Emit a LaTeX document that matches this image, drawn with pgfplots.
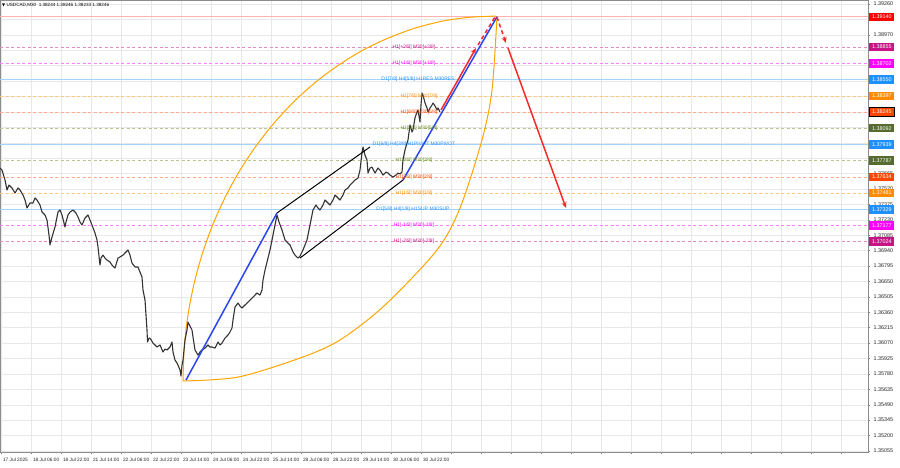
\documentclass[border=0pt]{standalone}
\usepackage{fontspec}
\setmainfont{Liberation Sans}
\newfontfamily\symfont{DejaVu Sans}
\usepackage{pgfplots}
\pgfplotsset{compat=1.18}
\usetikzlibrary{arrows.meta}
\definecolor{mvr}{HTML}{C71585}
\definecolor{mag}{HTML}{FF00FF}
\definecolor{dblue}{HTML}{1E90FF}
\definecolor{dorange}{HTML}{FF8C00}
\definecolor{ored}{HTML}{FF4500}
\definecolor{olv}{HTML}{556B2F}
\definecolor{olvt}{HTML}{6B8E23}
\definecolor{trblue}{HTML}{2A46F0}
\definecolor{trred}{HTML}{F52A2A}
\definecolor{arcor}{HTML}{FFA500}
\begin{document}
\begin{tikzpicture}
\useasboundingbox (0,-15pt) rectangle (900pt,452pt);
\begin{axis}[
  at={(0,0)}, anchor=south west, scale only axis,
  width=868pt, height=452pt,
  xmin=0, xmax=868, ymin=1.35045, ymax=1.39298,
  clip=false,
  axis line style={draw=black!45, line width=0.5pt},
  grid=major, major grid style={draw=black!9, line width=0.4pt},
  tick align=outside, major tick length=2pt, tick style={draw=black!50, line width=0.4pt},
  xtick pos=bottom, ytick pos=right, yticklabel pos=right,
  xtick={1,31,...,841},
  xticklabels={17 Jul 2025,18 Jul 06:00,18 Jul 22:00,21 Jul 14:00,22 Jul 06:00,22 Jul 22:00,23 Jul 14:00,24 Jul 06:00,24 Jul 22:00,25 Jul 14:00,28 Jul 06:00,28 Jul 22:00,29 Jul 14:00,30 Jul 06:00,30 Jul 22:00,{},{},{},{},{},{},{},{},{},{},{},{},{},{},{}},
  xticklabel style={font=\fontsize{4.8}{6}\selectfont, anchor=north west, xshift=-1.5pt, yshift=0pt, text=black!85},
  ytick={1.35055,1.35200,1.35345,1.35490,1.35635,1.35780,1.35925,1.36070,1.36215,1.36360,1.36505,1.36650,1.36795,1.36940,1.37085,1.37230,1.37375,1.37520,1.37665,1.37810,1.37955,1.38100,1.38245,1.38390,1.38535,1.38680,1.38825,1.38970,1.39115,1.39260},
  yticklabels={1.35055,1.35200,1.35345,1.35490,1.35635,1.35780,1.35925,1.36070,1.36215,1.36360,1.36505,1.36650,1.36795,1.36940,1.37085,1.37230,1.37375,1.37520,1.37665,1.37810,1.37955,{},{},{},{},{},{},1.38970,1.39115,1.39260},
  yticklabel style={font=\fontsize{5.4}{6}\selectfont, anchor=west, xshift=0pt, text=black!85},
]
% level lines
\addplot[red!30, line width=1.3pt] coordinates {(0,1.39140) (868,1.39140)};
\addplot[mvr!50, line width=0.5pt, dash pattern=on 3pt off 2.5pt] coordinates {(0,1.38855) (868,1.38855)};
\addplot[mag!50, line width=0.5pt, dash pattern=on 3pt off 2.5pt] coordinates {(0,1.38702) (868,1.38702)};
\addplot[dblue!40, line width=1.4pt] coordinates {(0,1.38550) (868,1.38550)};
\addplot[dorange!50, line width=0.5pt, dash pattern=on 3pt off 2.5pt] coordinates {(0,1.38397) (868,1.38397)};
\addplot[ored!45, line width=0.5pt, dash pattern=on 3pt off 2.5pt] coordinates {(0,1.38245) (868,1.38245)};
\addplot[olvt!50, line width=0.5pt, dash pattern=on 3pt off 2.5pt] coordinates {(0,1.38092) (868,1.38092)};
\addplot[dblue!40, line width=1.4pt] coordinates {(0,1.37939) (868,1.37939)};
\addplot[olvt!50, line width=0.5pt, dash pattern=on 3pt off 2.5pt] coordinates {(0,1.37787) (868,1.37787)};
\addplot[ored!45, line width=0.5pt, dash pattern=on 3pt off 2.5pt] coordinates {(0,1.37634) (868,1.37634)};
\addplot[dorange!50, line width=0.5pt, dash pattern=on 3pt off 2.5pt] coordinates {(0,1.37481) (868,1.37481)};
\addplot[dblue!40, line width=1.4pt] coordinates {(0,1.37329) (868,1.37329)};
\addplot[mag!50, line width=0.5pt, dash pattern=on 3pt off 2.5pt] coordinates {(0,1.37177) (868,1.37177)};
\addplot[mvr!50, line width=0.5pt, dash pattern=on 3pt off 2.5pt] coordinates {(0,1.37024) (868,1.37024)};
% orange arcs
\addplot[arcor, line width=1pt, smooth] coordinates {
(183,1.35713) (184.2,1.36021) (187.7,1.36317) (193.6,1.36609) (201.8,1.36894) (212.2,1.37170) (224.8,1.37435) (239.4,1.37687) (256.0,1.37924) (274.4,1.38144) (294.4,1.38346) (316.0,1.38528) (339.0,1.38688) (363.1,1.38827) (388.3,1.38940) (414.3,1.39031) (440.8,1.39096) (467.8,1.39134) (496,1.39147)};
\addplot[arcor, line width=1pt, smooth] coordinates {
(183,1.35713) (238,1.35750) (300,1.35929) (340,1.36099) (385,1.36428) (437,1.36946) (460,1.37341) (482,1.37981) (492,1.38451) (497,1.39147)};
% price
\addplot[black!80, line width=1.1pt, line join=round] coordinates {
(0,1.37717) (2,1.37698) (5,1.37604) (7,1.37510) (9,1.37557) (12,1.37529) (15,1.37482) (18,1.37529) (20,1.37510) (23,1.37463) (25,1.37416) (27,1.37341) (30,1.37388) (33,1.37388) (35,1.37435) (37,1.37416) (40,1.37369) (42,1.37303) (45,1.37275) (47,1.37228) (49,1.37087) (50,1.36993) (52,1.37068) (55,1.37162) (58,1.37303) (60,1.37322) (62,1.37275) (65,1.37162) (66,1.37209) (68,1.37275) (70,1.37303) (73,1.37322) (76,1.37294) (78,1.37256) (80,1.37209) (82,1.37181) (85,1.37247) (88,1.37275) (90,1.37228) (92,1.37181) (95,1.37105) (97,1.37040) (98,1.36974) (100,1.36804) (101,1.36870) (103,1.36898) (105,1.36870) (107,1.36851) (110,1.36833) (112,1.36804) (115,1.36776) (118,1.36870) (120,1.36880) (123,1.36898) (126,1.36927) (128,1.36946) (130,1.36898) (132,1.36823) (135,1.36786) (138,1.36786) (140,1.36738) (142,1.36691) (143,1.36569) (145,1.36475) (146,1.36334) (147,1.36193) (147.5,1.36080) (149,1.36117) (150,1.36117) (153,1.36070) (155,1.36052) (157,1.36033) (160,1.36052) (163,1.35986) (165,1.36014) (167,1.36005) (170,1.36033) (172,1.36080) (173,1.35986) (175,1.35910) (177,1.35882) (178,1.35863) (180,1.35816) (181,1.35760) (182,1.35863) (183,1.35910) (185,1.36099) (187,1.36193) (188,1.36268) (190,1.36230) (192,1.36193) (193,1.36127) (195,1.36005) (198,1.35957) (200,1.35986) (202,1.36005) (205,1.36023) (208,1.36052) (210,1.36033) (212,1.36033) (215,1.36023) (218,1.36080) (220,1.36052) (222,1.36070) (225,1.36117) (228,1.36146) (230,1.36174) (232,1.36212) (233,1.36287) (235,1.36409) (238,1.36447) (240,1.36418) (242,1.36400) (245,1.36428) (248,1.36456) (250,1.36475) (253,1.36503) (255,1.36522) (257,1.36541) (260,1.36522) (262,1.36569) (263,1.36663) (265,1.36757) (268,1.36870) (270,1.36946) (273,1.37087) (275,1.37181) (277,1.37275) (279,1.37209) (282,1.37134) (285,1.37040) (288,1.37011) (290,1.36993) (293,1.36927) (295,1.36898) (298,1.36870) (300,1.36889) (303,1.36946) (305,1.36993) (307,1.37040) (310,1.37181) (313,1.37322) (316,1.37369) (318,1.37341) (320,1.37322) (323,1.37369) (325,1.37416) (328,1.37388) (330,1.37369) (333,1.37416) (335,1.37463) (338,1.37435) (340,1.37416) (343,1.37463) (345,1.37510) (348,1.37529) (350,1.37557) (353,1.37585) (355,1.37604) (358,1.37623) (360,1.37698) (362,1.37858) (363,1.37915) (365,1.37839) (367,1.37792) (368,1.37670) (370,1.37717) (372,1.37726) (375,1.37670) (378,1.37717) (380,1.37698) (383,1.37651) (386,1.37679) (388,1.37670) (390,1.37651) (393,1.37632) (396,1.37651) (398,1.37670) (400,1.37661) (402,1.37679) (403,1.37792) (405,1.37887) (407,1.37952) (408,1.37981) (410,1.38122) (412,1.38056) (413,1.38075) (415,1.38188) (417,1.38244) (418,1.38263) (420,1.38150) (421,1.38310) (422,1.38423) (423,1.38404) (425,1.38329) (427,1.38282) (428,1.38244) (430,1.38282) (432,1.38310) (433,1.38329) (435,1.38301) (437,1.38263) (438,1.38282) (440,1.38246)};
% trend lines
\addplot[trblue, line width=1.5pt] coordinates {(186,1.35722) (277,1.37294)};
\addplot[trblue, line width=1.5pt] coordinates {(403,1.37604) (497,1.39140)};
\addplot[black, line width=1pt] coordinates {(277,1.37294) (370,1.37915)};
\addplot[black, line width=1pt] coordinates {(300,1.36870) (403,1.37604)};
% red arrows
\addplot[trred, line width=1.5pt, -{Stealth[length=6pt,width=5pt]}] coordinates {(441,1.38263) (476,1.38846)};
\addplot[trred, line width=1.5pt, dash pattern=on 4pt off 3pt] coordinates {(478,1.38875) (495,1.39138)};
\addplot[trred, line width=1.5pt, dash pattern=on 4pt off 3pt, -{Stealth[length=6pt,width=5pt]}] coordinates {(497,1.39138) (506,1.38893)};
\addplot[trred, line width=1.5pt, -{Stealth[length=6pt,width=5pt]}] coordinates {(508,1.38846) (566,1.37341)};
% level texts
\begin{scope}[every node/.style={font=\fontsize{5}{6}\selectfont, inner sep=0pt}]
\node[text=mvr] at (axis cs:414,1.38855) {H1[+2/8] M30[+2/8]};
\node[text=mag] at (axis cs:414,1.38702) {H1[+1/8] M30[+1/8]};
\node[text=dblue] at (axis cs:418,1.38550) {D1[7/8] H4[5/8] H1RES M30RES};
\node[text=dorange] at (axis cs:419,1.38397) {H1[7/8] M30[7/8]};
\node[text=ored] at (axis cs:419,1.38245) {H1[6/8] M30[6/8]};
\node[text=olvt] at (axis cs:419,1.38092) {H1[5/8] M30[5/8]};
\node[text=dblue] at (axis cs:414,1.37939) {D1[6/8] H4[3/8] H1PIVOT M30PIVOT};
\node[text=olvt] at (axis cs:414,1.37787) {H1[3/8] M30[3/8]};
\node[text=ored] at (axis cs:414,1.37634) {H1[2/8] M30[2/8]};
\node[text=dorange] at (axis cs:414,1.37481) {H1[1/8] M30[1/8]};
\node[text=dblue] at (axis cs:413,1.37329) {D1[5/8] H4[1/8] H1SUP M30SUP};
\node[text=mag] at (axis cs:414,1.37177) {H1[-1/8] M30[-1/8]};
\node[text=mvr] at (axis cs:414,1.37024) {H1[-2/8] M30[-2/8]};
\end{scope}
\node[anchor=north west, font=\fontsize{4.6}{5}\selectfont, inner sep=0pt, text=black] at (axis cs:2,1.39270) {{\symfont\fontsize{4}{5}\selectfont ▼}\ USDCAD,M30\ \ 1.38244 1.38246 1.38233 1.38246};
\coordinate (P1) at (axis cs:868,1.39140);
\coordinate (P2) at (axis cs:868,1.38855);
\coordinate (P3) at (axis cs:868,1.38702);
\coordinate (P4) at (axis cs:868,1.38550);
\coordinate (P5) at (axis cs:868,1.38397);
\coordinate (P6) at (axis cs:868,1.38245);
\coordinate (P7) at (axis cs:868,1.38092);
\coordinate (P8) at (axis cs:868,1.37939);
\coordinate (P9) at (axis cs:868,1.37787);
\coordinate (P10) at (axis cs:868,1.37634);
\coordinate (P11) at (axis cs:868,1.37481);
\coordinate (P12) at (axis cs:868,1.37329);
\coordinate (P13) at (axis cs:868,1.37177);
\coordinate (P14) at (axis cs:868,1.37024);
\end{axis}
\begin{scope}[every node/.style={anchor=west, xshift=1.2pt, font=\fontsize{5.4}{6}\selectfont, text=white, inner xsep=2.6pt, inner ysep=0pt, minimum height=8.5pt}]
\node[fill=red] at (P1) {1.39140};
\node[fill=mvr] at (P2) {1.38855};
\node[fill=mag] at (P3) {1.38702};
\node[fill=dblue] at (P4) {1.38550};
\node[fill=dorange] at (P5) {1.38397};
\node[fill=ored, draw=black, line width=0.6pt] at (P6) {1.38245};
\node[fill=olv] at (P7) {1.38092};
\node[fill=dblue] at (P8) {1.37939};
\node[fill=olv] at (P9) {1.37787};
\node[fill=ored] at (P10) {1.37634};
\node[fill=dorange] at (P11) {1.37481};
\node[fill=dblue] at (P12) {1.37329};
\node[fill=mag] at (P13) {1.37177};
\node[fill=mvr] at (P14) {1.37024};
\end{scope}
\end{tikzpicture}
\end{document}
